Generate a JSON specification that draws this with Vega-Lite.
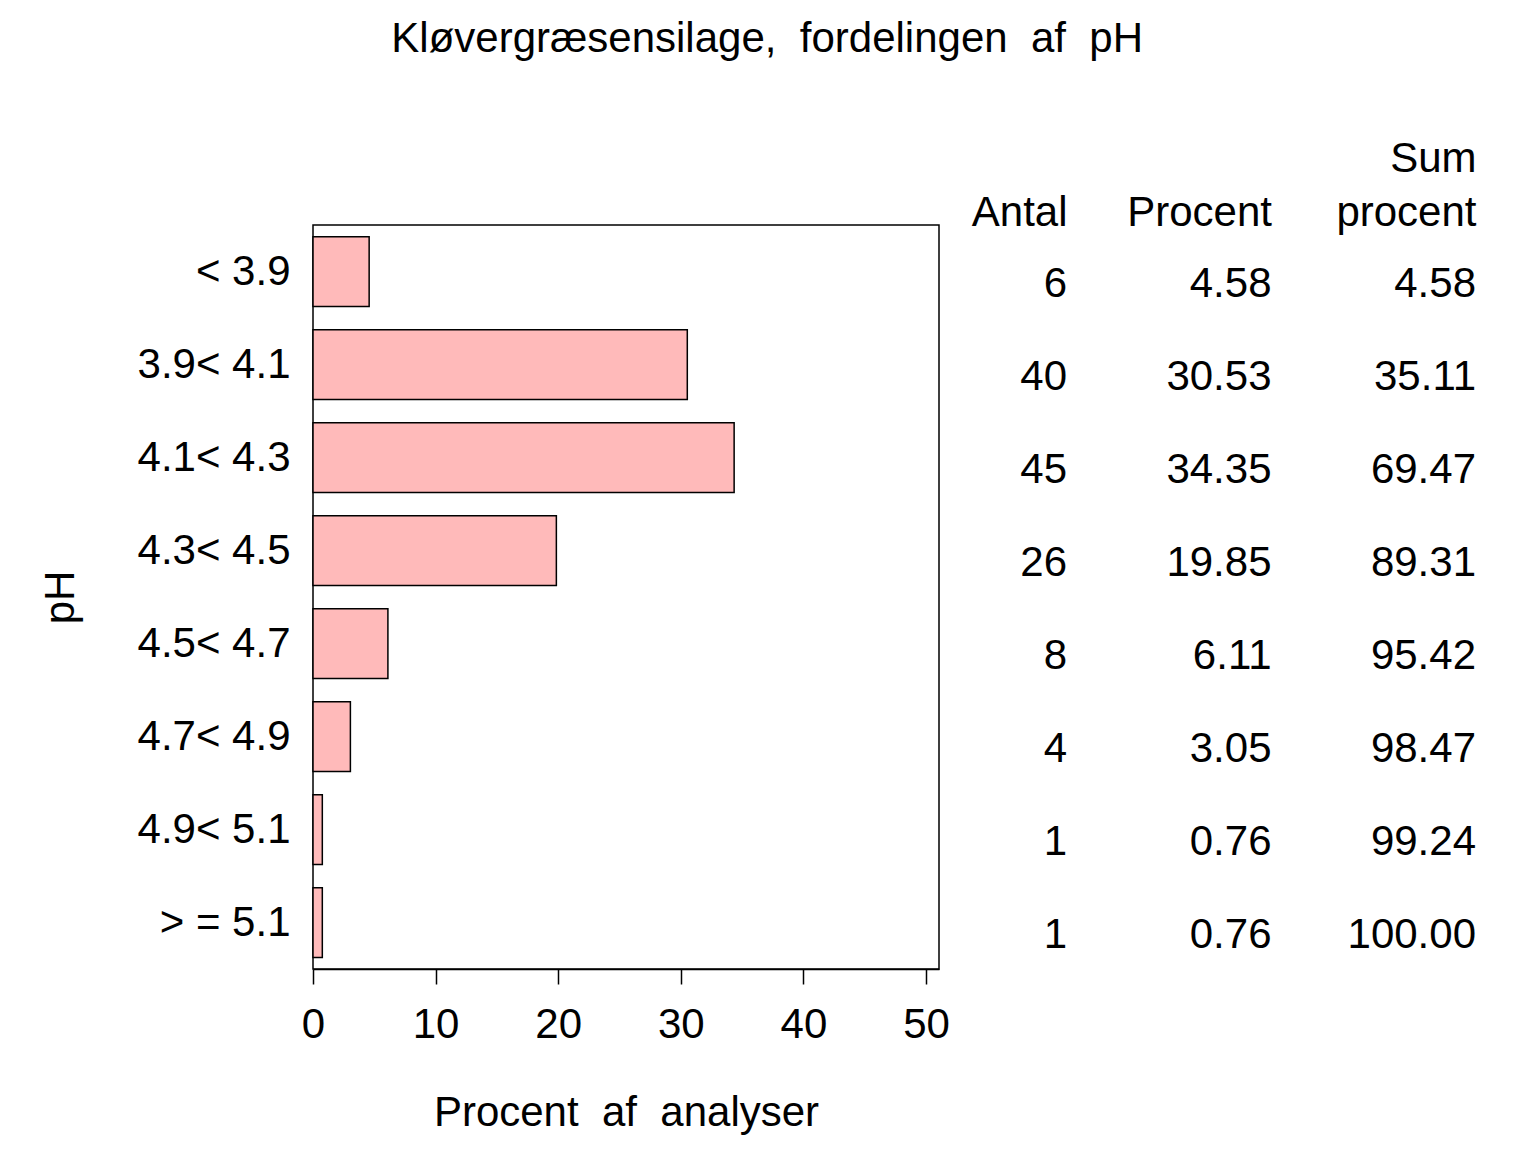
{
  "$schema": "https://vega.github.io/schema/vega-lite/v6.json",
  "description": "Kløvergræsensilage, fordelingen af pH",
  "background": "white",
  "padding": {"left": 38, "top": 18, "right": 5, "bottom": 5},
  "bounds": "flush",
  "spacing": 128,
  "title": {
    "text": "Kløvergræsensilage,\u00a0 fordelingen\u00a0 af\u00a0 pH",
    "font": "Liberation Sans",
    "fontSize": 42,
    "fontWeight": "normal",
    "color": "black",
    "anchor": "middle",
    "dx": 10,
    "offset": 76
  },
  "config": {
    "font": "Liberation Sans",
    "view": {"stroke": "black", "strokeWidth": 1.5},
    "axis": {
      "labelColor": "black",
      "titleColor": "black",
      "domainColor": "black",
      "tickColor": "black",
      "labelFontSize": 42,
      "titleFontSize": 42,
      "titleFontWeight": "normal",
      "grid": false
    }
  },
  "data": {
    "values": [
      {"ph": "< 3.9", "antal": 6, "procent": 4.58, "sum": 4.58},
      {"ph": "3.9< 4.1", "antal": 40, "procent": 30.53, "sum": 35.11},
      {"ph": "4.1< 4.3", "antal": 45, "procent": 34.35, "sum": 69.47},
      {"ph": "4.3< 4.5", "antal": 26, "procent": 19.85, "sum": 89.31},
      {"ph": "4.5< 4.7", "antal": 8, "procent": 6.11, "sum": 95.42},
      {"ph": "4.7< 4.9", "antal": 4, "procent": 3.05, "sum": 98.47},
      {"ph": "4.9< 5.1", "antal": 1, "procent": 0.76, "sum": 99.24},
      {"ph": "> = 5.1", "antal": 1, "procent": 0.76, "sum": 100.0}
    ]
  },
  "hconcat": [
    {
      "width": 626,
      "height": 744,
      "mark": {"type": "bar", "fill": "#ffbaba", "stroke": "black", "strokeWidth": 1.5},
      "encoding": {
        "y": {
          "field": "ph",
          "type": "nominal",
          "sort": null,
          "scale": {"paddingInner": 0.25, "paddingOuter": 0.125},
          "axis": {
            "title": "pH",
            "domain": false,
            "ticks": false,
            "tickSize": 0,
            "labelPadding": 23,
            "titlePadding": 55
          }
        },
        "x": {
          "field": "procent",
          "type": "quantitative",
          "scale": {"domain": [0, 51.06], "nice": false},
          "axis": {
            "title": "Procent\u00a0 af\u00a0 analyser",
            "values": [0, 10, 20, 30, 40, 50],
            "tickSize": 15,
            "tickWidth": 1.5,
            "domainWidth": 1.5,
            "labelPadding": 20,
            "titlePadding": 47,
            "labelFlush": false
          }
        }
      }
    },
    {
      "width": 409,
      "height": 744,
      "view": {"stroke": null},
      "encoding": {
        "y": {
          "field": "ph",
          "type": "nominal",
          "sort": null,
          "scale": {"paddingInner": 0.25, "paddingOuter": 0.125},
          "axis": null
        }
      },
      "layer": [
        {
          "mark": {"type": "text", "align": "right", "baseline": "middle", "dy": 12, "fontSize": 42, "color": "black"},
          "encoding": {
            "x": {
              "datum": "Antal",
              "type": "nominal",
              "scale": {"type": "point", "padding": 0, "domain": ["Antal", "Procent", "Sum procent"]},
              "axis": {
                "orient": "top",
                "title": null,
                "domain": false,
                "ticks": false,
                "tickSize": 0,
                "labelAlign": "right",
                "labelBaseline": "bottom",
                "labelPadding": 45,
                "labelLineHeight": 54,
                "labelOverlap": false,
                "labelFlush": false,
                "labelAngle": 0,
                "labelExpr": "datum.value == 'Sum procent' ? ['Sum', 'procent'] : ['', datum.label]"
              }
            },
            "text": {"field": "antal", "type": "quantitative", "format": "d"}
          }
        },
        {
          "mark": {"type": "text", "align": "right", "baseline": "middle", "dy": 12, "fontSize": 42, "color": "black"},
          "encoding": {
            "x": {"datum": "Procent", "type": "nominal"},
            "text": {"field": "procent", "type": "quantitative", "format": ".2f"}
          }
        },
        {
          "mark": {"type": "text", "align": "right", "baseline": "middle", "dy": 12, "fontSize": 42, "color": "black"},
          "encoding": {
            "x": {"datum": "Sum procent", "type": "nominal"},
            "text": {"field": "sum", "type": "quantitative", "format": ".2f"}
          }
        }
      ]
    }
  ]
}
